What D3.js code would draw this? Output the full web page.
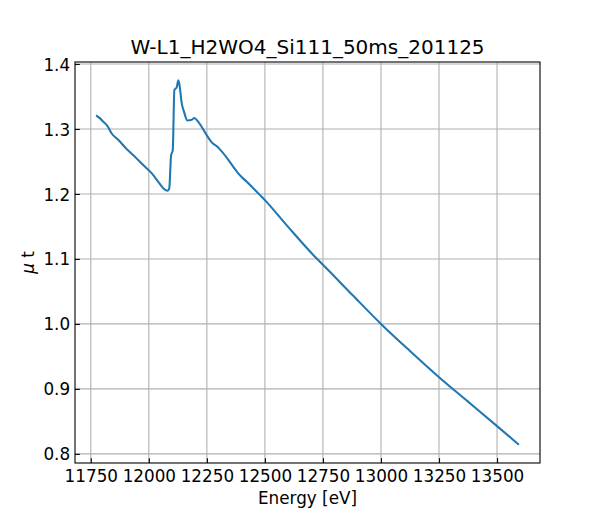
<!DOCTYPE html>
<html>
<head>
<meta charset="utf-8">
<script src="https://cdn.jsdelivr.net/npm/d3@7"></script>
<style>
  html, body { margin: 0; padding: 0; background: #fff; }
  svg { display: block; font-family: "DejaVu Sans", sans-serif; }
</style>
</head>
<body>
<svg id="chart" width="600" height="520"></svg>
<script>
const titleText = "W-L1_H2WO4_Si111_50ms_201125";
const xLabel = "Energy [eV]";
const energy = [11773, 11790, 11804, 11819, 11840, 11869, 11905, 11941, 11977, 12013, 12040, 12063, 12081, 12088,
  12096, 12103, 12110, 12120, 12127, 12131, 12142, 12152, 12166, 12185, 12196, 12213, 12249, 12271, 12292, 12321,
  12364, 12385, 12422, 12479, 12500, 12600, 12723, 12750, 12875, 13000, 13125, 13250, 13375, 13500, 13594];
const mu = [1.321, 1.3163, 1.311, 1.306, 1.293, 1.283, 1.269, 1.257, 1.244, 1.2316, 1.219, 1.2085, 1.2048, 1.2085,
  1.2598, 1.267, 1.360, 1.364, 1.375, 1.370, 1.339, 1.326, 1.313, 1.314, 1.317, 1.311, 1.2906, 1.2794, 1.2737, 1.2624,
  1.2418, 1.2316, 1.2186, 1.1982, 1.1905, 1.1493, 1.1006, 1.091, 1.0453, 1.0, 0.9583, 0.918, 0.8804, 0.8427, 0.814];
const xTicks = [11750, 12000, 12250, 12500, 12750, 13000, 13250, 13500];
const yTicks = [0.8, 0.9, 1.0, 1.1, 1.2, 1.3, 1.4];

const data = energy.map((e, i) => ({ x: e, y: mu[i] }));
const svg = d3.select("#chart");
const L = 75, R = 540, T = 62, B = 463;

function padded(ext) { const r = ext[1] - ext[0]; return [ext[0] - 0.05 * r, ext[1] + 0.05 * r]; }
const x = d3.scaleLinear().domain(padded(d3.extent(energy))).range([L, R]);
const y = d3.scaleLinear().domain(padded(d3.extent(mu))).range([B, T]);

const grid = svg.append("g");
grid.selectAll("line.vx").data(xTicks).join("line")
  .attr("x1", d => x(d)).attr("x2", d => x(d)).attr("y1", T).attr("y2", B)
  .attr("stroke", "#b0b0b0").attr("stroke-width", 1.1);
grid.selectAll("line.hy").data(yTicks).join("line")
  .attr("y1", d => y(d)).attr("y2", d => y(d)).attr("x1", L).attr("x2", R)
  .attr("stroke", "#b0b0b0").attr("stroke-width", 1.1);

svg.append("path").datum(data)
  .attr("d", d3.line().x(d => x(d.x)).y(d => y(d.y)).curve(d3.curveMonotoneX))
  .attr("fill", "none").attr("stroke", "#1f77b4").attr("stroke-width", 2.08)
  .attr("stroke-linejoin", "round").attr("stroke-linecap", "butt");

// axes with inward ticks
const xAxis = d3.axisBottom(x).tickValues(xTicks).tickSize(-4.86).tickPadding(0).tickFormat(d3.format("d"));
const gx = svg.append("g").attr("transform", `translate(0,${B})`).call(xAxis);
gx.select(".domain").remove();
gx.selectAll(".tick line").attr("stroke", "#000").attr("stroke-width", 1.1);
gx.selectAll(".tick text").attr("y", 19).attr("dy", null).attr("font-size", 16.8)
  .attr("fill", "#000").attr("font-family", "DejaVu Sans");

const yAxis = d3.axisLeft(y).tickValues(yTicks).tickSize(-4.86).tickPadding(0).tickFormat(d3.format(".1f"));
const gy = svg.append("g").attr("transform", `translate(${L},0)`).call(yAxis);
gy.select(".domain").remove();
gy.selectAll(".tick line").attr("stroke", "#000").attr("stroke-width", 1.1);
gy.selectAll(".tick text").attr("x", -4.86).attr("dy", "0.36em").attr("font-size", 16.8)
  .attr("fill", "#000").attr("font-family", "DejaVu Sans");

svg.append("rect").attr("x", L).attr("y", T).attr("width", R - L).attr("height", B - T)
  .attr("fill", "none").attr("stroke", "#000").attr("stroke-width", 1.1);

svg.append("text").attr("x", (L + R) / 2).attr("y", 53.5).attr("text-anchor", "middle")
  .attr("font-size", 20).attr("fill", "#000").text(titleText);

svg.append("text").attr("x", (L + R) / 2).attr("y", 504).attr("text-anchor", "middle")
  .attr("font-size", 16.8).attr("fill", "#000").text(xLabel);

const yl = svg.append("text").attr("transform", `translate(34,${(T + B) / 2}) rotate(-90)`)
  .attr("text-anchor", "middle").attr("font-size", 16.8).attr("fill", "#000");
yl.append("tspan").attr("font-style", "italic").text("\u03bc");
yl.append("tspan").text(" t");
</script>
</body>
</html>
